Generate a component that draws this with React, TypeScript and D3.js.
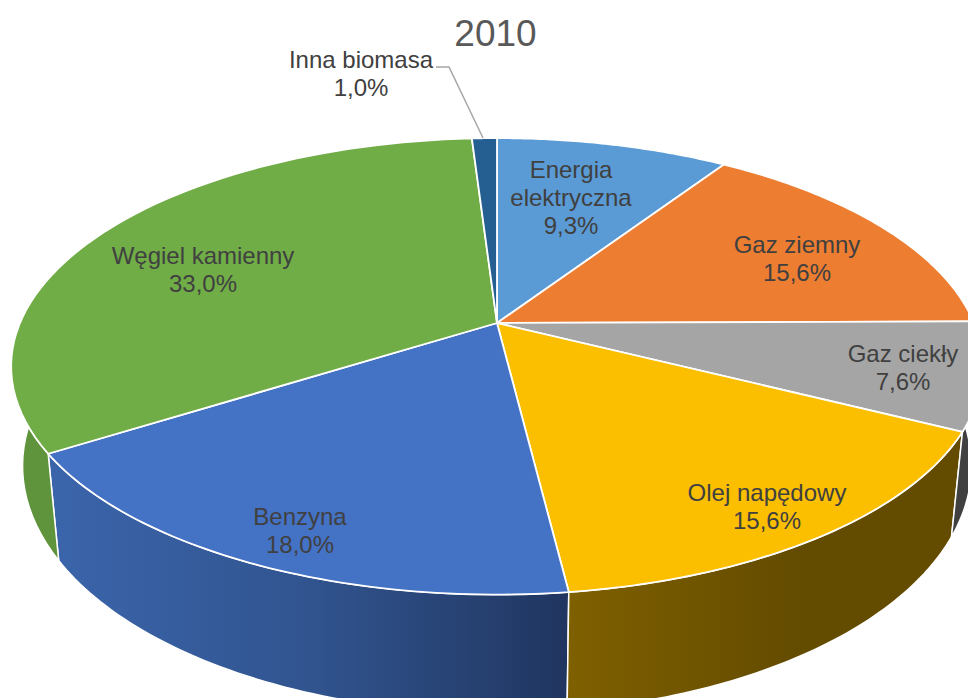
import React, { useEffect, useMemo } from "react";
import * as d3 from "d3";

const WIDTH = 968;
const HEIGHT = 698;

const CATEGORIES = ["Energia elektryczna", "Gaz ziemny", "Gaz ciekły", "Olej napędowy", "Benzyna", "Węgiel kamienny", "Inna biomasa"];
const VALUES = [9.3, 15.6, 7.6, 15.6, 18.0, 33.0, 1.0];
const TOP_COLORS = ["#5b9bd5", "#ed7d31", "#a5a5a5", "#fbbf00", "#4472c4", "#70ad47", "#255e91"];
const WALL_FILLS = ["#3f73a0", "#b05c24", "#404040", "url(#wallOlej)", "url(#wallBenzyna)", "#5f933c", "#1c466c"];

// label lines and where each block sits (block centre)
const LABEL_LINES = [["Energia", "elektryczna"], ["Gaz ziemny"], ["Gaz ciekły"], ["Olej napędowy"], ["Benzyna"], ["Węgiel kamienny"], ["Inna biomasa"]];
const LABEL_CENTERS = [[571, 184], [797, 245], [903, 354], [767, 493], [300, 517], [203, 256], [361, 60]];

// perspective set up so the apex lands where the reference has it
const CX = 497;
const CY = 323;
const RADIUS = 477;
const SQUASH = 220;
const PERSPECTIVE = 0.19;
const DEPTH = 96;
const SHRINK = 0.0235;

const project = (angle: number, r = 1) => {
    const x = Math.sin(angle) * r;
    const y = -Math.cos(angle) * r;
    const f = 1 / (1 - PERSPECTIVE * y);
    return { x: CX + RADIUS * x * f, y: CY + SQUASH * y * f, f };
};

const projectBottom = (angle: number) => {
    const p = project(angle);
    return { x: CX + (p.x - CX) * (1 - SHRINK), y: p.y + DEPTH * p.f };
};

const App = () => {
    useEffect(() => {
        document.body.style.margin = "0";
    }, []);

    const arcs = useMemo(() => {
        const pie = d3.pie<number>().sort(null).value((d) => d);
        return pie(VALUES);
    }, []);

    const line = d3.line<{ x: number; y: number }>().x((d) => d.x).y((d) => d.y);

    const sample = (a0: number, a1: number) => d3.range(0, 61).map((i) => a0 + ((a1 - a0) * i) / 60);

    const topPath = (a0: number, a1: number) => {
        const pts = sample(a0, a1).map((a) => project(a));
        return line([{ x: CX, y: CY }, ...pts]) + "Z";
    };

    const wallPath = (a0: number, a1: number) => {
        const angles = sample(a0, a1);
        const top = angles.map((a) => project(a));
        const bottom = angles.map((a) => projectBottom(a)).reverse();
        return line([...top, ...bottom]) + "Z";
    };

    // far walls first, the near ones paint over them
    const wallOrder = d3.range(arcs.length).sort(
        (a, b) => -Math.cos((arcs[b].startAngle + arcs[b].endAngle) / 2) + Math.cos((arcs[a].startAngle + arcs[a].endAngle) / 2)
    );

    const fmt = d3.format(".1f");
    const pct = (v: number) => fmt(v).replace(".", ",") + "%";

    return (
        <svg width={WIDTH} height={HEIGHT} style={{ display: "block", position: "absolute", left: 0, top: 0 }} fontFamily="'Liberation Sans', Arial, sans-serif">
            <defs>
                <linearGradient id="wallBenzyna" gradientUnits="userSpaceOnUse" x1={50} x2={571} y1={0} y2={0}>
                    <stop offset="0" stopColor="#3b65ab" />
                    <stop offset="0.5" stopColor="#31548f" />
                    <stop offset="1" stopColor="#20355f" />
                </linearGradient>
                <linearGradient id="wallOlej" gradientUnits="userSpaceOnUse" x1={571} x2={800} y1={0} y2={0}>
                    <stop offset="0" stopColor="#7f6000" />
                    <stop offset="1" stopColor="#634b00" />
                </linearGradient>
            </defs>

            {wallOrder.map((i) => (
                <path key={"wall" + i} d={wallPath(arcs[i].startAngle, arcs[i].endAngle)} fill={WALL_FILLS[i]} stroke="#fff" strokeWidth={1.5} strokeLinejoin="round" />
            ))}

            {arcs.map((a, i) => (
                <path key={CATEGORIES[i]} d={topPath(a.startAngle, a.endAngle)} fill={TOP_COLORS[i]} stroke="#fff" strokeWidth={1.8} strokeLinejoin="round" />
            ))}

            <polyline points="436,67 449,67 483,138" fill="none" stroke="#a6a6a6" strokeWidth={1.5} />

            <text x={495.5} y={33} dy="0.35em" textAnchor="middle" fontSize={37} fill="#595959">2010</text>

            {VALUES.map((v, i) => {
                const lines = [...LABEL_LINES[i], pct(v)];
                const [lx, ly] = LABEL_CENTERS[i];
                const startY = lines.length === 3 ? ly - 14 : ly;
                return (
                    <text key={"label" + i} x={lx} textAnchor="middle" fontSize={24} fill="#404040">
                        {lines.map((t, j) => (
                            <tspan key={j} x={lx} y={startY + j * 27.6} dy="0.35em">{t}</tspan>
                        ))}
                    </text>
                );
            })}
        </svg>
    );
};

export default App;
